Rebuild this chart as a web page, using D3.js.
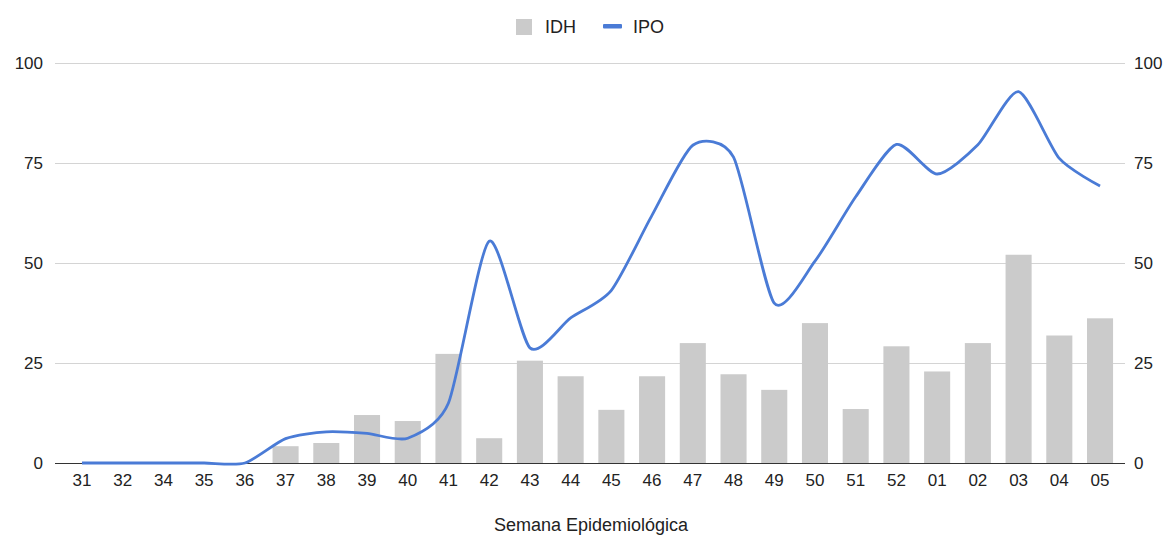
<!DOCTYPE html>
<html>
<head>
<meta charset="utf-8">
<script src="https://cdn.jsdelivr.net/npm/d3@7/dist/d3.min.js"></script>
<style>
  html, body { margin: 0; padding: 0; background: #fff; }
  svg { display: block; font-family: Arial, "Liberation Sans", sans-serif; }
</style>
</head>
<body>
<svg id="chart" width="1170" height="538"></svg>
<script>
// Epidemiological weeks
const weeks = ["31","32","34","35","36","37","38","39","40","41","42","43","44","45","46","47","48","49","50","51","52","01","02","03","04","05"];
// IDH (bars)
const idh = [0,0,0,0,0,4.2,5.0,12.0,10.5,27.3,6.2,25.6,21.7,13.3,21.7,30.0,22.2,18.3,35.0,13.5,29.2,22.9,30.0,52.1,31.9,36.2];
// IPO (smoothed line)
const ipo = [0,0,0,0,0,6.1,7.8,7.4,6.2,15,55.5,28.8,36.3,43.2,62,79.5,76.5,40,50.5,66.6,79.7,72.3,79.6,92.9,76.2,69.3];
const yTicks = [0,25,50,75,100];
const seriesNames = ["IDH","IPO"];

const svg = d3.select("#chart");
const gridLeft = 55, gridRight = 1125;
const tickFont = 17;

const x = d3.scaleBand().domain(weeks).range([61.6, 1120.4]).paddingInner(0.36).paddingOuter(0.18);
const y = d3.scaleLinear().domain([0,100]).range([463, 63.3]);

// gridlines
svg.append("g").selectAll("line").data(yTicks.filter(d => d !== 0)).join("line")
  .attr("x1", gridLeft).attr("x2", gridRight)
  .attr("y1", d => Math.round(y(d)) + 0.5).attr("y2", d => Math.round(y(d)) + 0.5)
  .attr("stroke", "#d4d4d4").attr("stroke-width", 1);

// left axis labels
svg.append("g").selectAll("text").data(yTicks).join("text")
  .attr("x", 43).attr("y", d => y(d)).attr("dy", "0.36em")
  .attr("text-anchor", "end").attr("font-size", tickFont).attr("fill", "#222")
  .text(d => d);

// right axis labels
svg.append("g").selectAll("text").data(yTicks).join("text")
  .attr("x", 1134).attr("y", d => y(d)).attr("dy", "0.36em")
  .attr("text-anchor", "start").attr("font-size", tickFont).attr("fill", "#222")
  .text(d => d);

// bars
svg.append("g").selectAll("rect").data(weeks.map((w,i) => ({w, v: idh[i]}))).join("rect")
  .attr("x", d => x(d.w)).attr("width", x.bandwidth())
  .attr("y", d => y(d.v)).attr("height", d => y(0) - y(d.v))
  .attr("fill", "#cbcbcb");

// baseline
svg.append("line")
  .attr("x1", gridLeft).attr("x2", gridRight)
  .attr("y1", Math.round(y(0)) + 0.5).attr("y2", Math.round(y(0)) + 0.5)
  .attr("stroke", "#333").attr("stroke-width", 1);

// line
const line = d3.line()
  .x((d,i) => x(weeks[i]) + x.bandwidth()/2)
  .y(d => y(d))
  .curve(d3.curveCardinal.tension(0.3));
svg.append("path").datum(ipo)
  .attr("d", line).attr("fill", "none")
  .attr("stroke", "#4a7bd6").attr("stroke-width", 2.8)
  .attr("stroke-linejoin", "round");

// x labels
svg.append("g").selectAll("text").data(weeks).join("text")
  .attr("x", d => x(d) + x.bandwidth()/2).attr("y", 486)
  .attr("text-anchor", "middle").attr("font-size", tickFont).attr("fill", "#222")
  .text(d => d);

// axis title
svg.append("text").attr("x", 591).attr("y", 531)
  .attr("text-anchor", "middle").attr("font-size", 18).attr("fill", "#222")
  .text("Semana Epidemiológica");

// legend
const lg = svg.append("g");
lg.append("rect").attr("x", 516).attr("y", 19).attr("width", 16).attr("height", 16).attr("fill", "#cbcbcb");
lg.append("text").attr("x", 545).attr("y", 33).attr("font-size", 18).attr("fill", "#222").text(seriesNames[0]);
lg.append("rect").attr("x", 603).attr("y", 24).attr("width", 19).attr("height", 4.5).attr("rx", 1).attr("fill", "#4a7bd6");
lg.append("text").attr("x", 633).attr("y", 33).attr("font-size", 18).attr("fill", "#222").text(seriesNames[1]);
</script>
</body>
</html>
